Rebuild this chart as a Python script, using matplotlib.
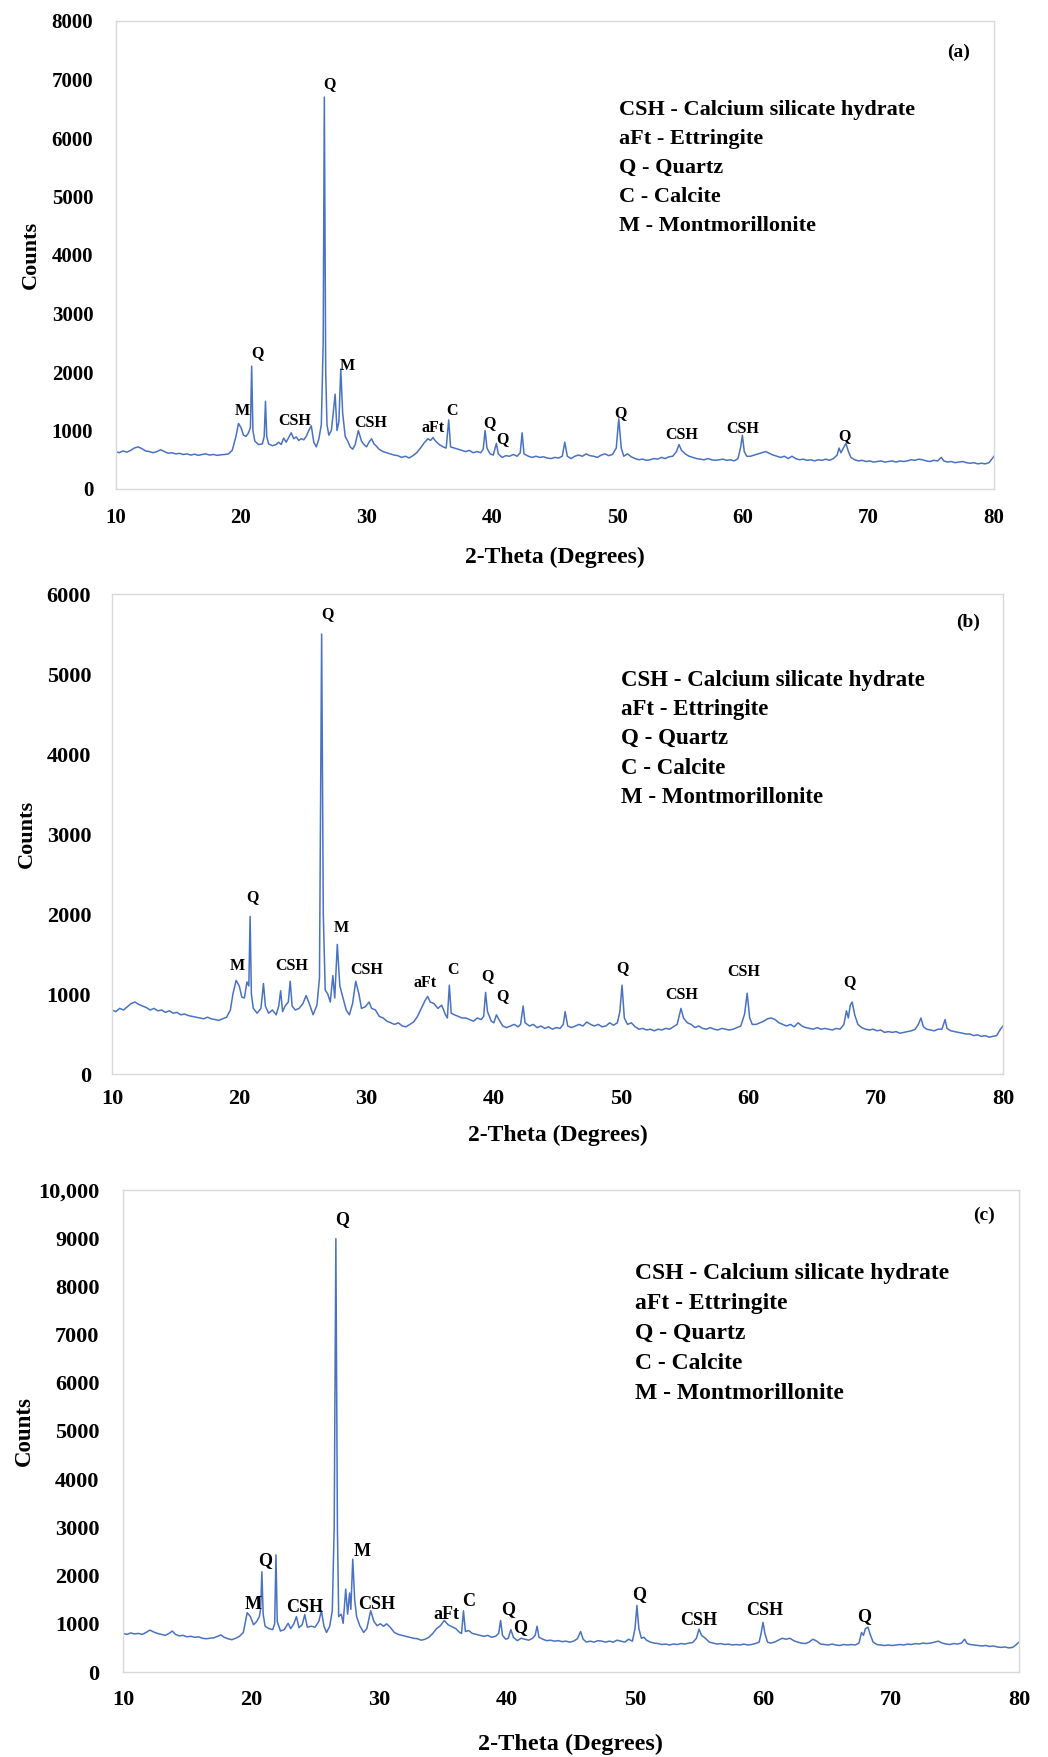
import matplotlib
matplotlib.use("Agg")
import matplotlib.pyplot as plt

plt.rcParams['font.family'] = ['Liberation Serif', 'DejaVu Serif']
plt.rcParams['font.weight'] = 'bold'

# ---- (a) pattern ----
theta_a = [10.0, 10.3, 10.6, 10.9, 11.2, 11.5, 11.8, 12.1, 12.4, 12.7,
           13.0, 13.3, 13.6, 13.9, 14.2, 14.5, 14.8, 15.1, 15.4, 15.7,
           16.0, 16.3, 16.6, 16.9, 17.2, 17.5, 17.8, 18.1, 18.4, 18.7,
           19.0, 19.3, 19.6, 19.8, 20.0, 20.2, 20.4, 20.6, 20.75, 20.85,
           20.95, 21.1, 21.4, 21.7, 21.85, 21.95, 22.05, 22.2, 22.5, 22.8,
           23.0, 23.2, 23.4, 23.6, 23.8, 24.0, 24.2, 24.4, 24.6, 24.8,
           25.0, 25.2, 25.4, 25.6, 25.8, 26.0, 26.2, 26.4, 26.55, 26.64,
           26.75, 26.85, 27.0, 27.2, 27.35, 27.5, 27.65, 27.8, 27.95, 28.1,
           28.3, 28.5, 28.7, 28.9, 29.1, 29.35, 29.6, 29.8, 30.0, 30.2,
           30.4, 30.6, 30.8, 31.0, 31.3, 31.6, 31.9, 32.2, 32.5, 32.8,
           33.1, 33.4, 33.7, 34.0, 34.3, 34.6, 34.9, 35.1, 35.3, 35.5,
           35.8, 36.1, 36.35, 36.55, 36.7, 37.0, 37.3, 37.6, 37.9, 38.2,
           38.5, 38.8, 39.1, 39.3, 39.45, 39.6, 39.85, 40.1, 40.35, 40.5,
           40.8, 41.1, 41.4, 41.7, 42.0, 42.25, 42.4, 42.55, 42.9, 43.2,
           43.5, 43.8, 44.1, 44.4, 44.7, 45.0, 45.3, 45.6, 45.8, 46.0,
           46.3, 46.6, 46.9, 47.2, 47.5, 47.8, 48.1, 48.4, 48.7, 49.0,
           49.3, 49.6, 49.9, 50.1, 50.3, 50.5, 50.8, 51.1, 51.4, 51.7,
           52.0, 52.3, 52.6, 52.9, 53.2, 53.5, 53.8, 54.1, 54.4, 54.7,
           54.9, 55.1, 55.4, 55.7, 56.0, 56.3, 56.6, 56.9, 57.2, 57.5,
           57.8, 58.1, 58.4, 58.7, 59.0, 59.3, 59.6, 59.8, 59.95, 60.1,
           60.3, 60.6, 60.9, 61.2, 61.5, 61.8, 62.1, 62.4, 62.7, 63.0,
           63.3, 63.6, 63.9, 64.2, 64.5, 64.8, 65.1, 65.4, 65.7, 66.0,
           66.3, 66.6, 66.9, 67.2, 67.5, 67.65, 67.8, 68.0, 68.2, 68.4,
           68.6, 68.9, 69.2, 69.5, 69.8, 70.1, 70.4, 70.7, 71.0, 71.3,
           71.6, 71.9, 72.2, 72.5, 72.8, 73.1, 73.4, 73.7, 74.0, 74.3,
           74.6, 74.9, 75.2, 75.5, 75.8, 76.0, 76.3, 76.6, 76.9, 77.2,
           77.5, 77.8, 78.1, 78.4, 78.7, 79.0, 79.3, 79.6, 79.85, 80.0]
counts_a = [640, 620, 650, 630, 660, 700, 720, 690, 650, 640,
            620, 640, 670, 640, 610, 620, 600, 610, 590, 600,
            580, 595, 575, 590, 600, 580, 590, 575, 585, 590,
            600, 660, 900, 1120, 1050, 920, 900, 960, 1050, 2100,
            1000, 820, 760, 770, 900, 1500, 900, 770, 740, 760,
            800, 760, 870, 800, 880, 960, 860, 890, 830, 860,
            840, 900, 1000, 1080, 800, 720, 850, 1100, 2500, 6700,
            2000, 1100, 920, 1000, 1300, 1620, 1000, 1150, 2050, 1300,
            900, 820, 720, 680, 760, 1000, 820, 760, 720, 800,
            860, 770, 730, 680, 640, 620, 600, 580, 570, 540,
            560, 530, 570, 620, 700, 790, 860, 830, 880, 820,
            760, 720, 700, 1180, 720, 700, 680, 660, 640, 660,
            620, 640, 620, 680, 1000, 700, 600, 580, 780, 600,
            540, 570, 560, 590, 560, 620, 960, 600, 560, 540,
            560, 540, 550, 530, 520, 540, 530, 560, 800, 560,
            520, 560, 580, 560, 600, 570, 560, 540, 580, 600,
            570, 590, 700, 1200, 700, 560, 600, 550, 520, 500,
            510, 490, 500, 520, 510, 540, 520, 550, 560, 640,
            760, 660, 600, 560, 540, 520, 510, 500, 520, 500,
            490, 500, 510, 490, 500, 480, 520, 700, 920, 640,
            560, 560, 580, 600, 620, 640, 610, 580, 560, 540,
            560, 520, 560, 520, 500, 510, 490, 500, 480, 500,
            490, 510, 490, 520, 580, 700, 620, 700, 780, 640,
            540, 500, 480, 490, 470, 480, 460, 470, 480, 460,
            470, 480, 460, 480, 470, 480, 500, 490, 510, 500,
            480, 470, 490, 480, 540, 480, 460, 470, 450, 460,
            470, 450, 440, 450, 430, 440, 430, 450, 520, 560]

# ---- (b) pattern ----
theta_b = [10.0, 10.3, 10.6, 10.9, 11.2, 11.5, 11.8, 12.1, 12.4, 12.7,
           13.0, 13.3, 13.6, 13.9, 14.2, 14.5, 14.8, 15.1, 15.4, 15.7,
           16.0, 16.3, 16.6, 16.9, 17.2, 17.5, 17.8, 18.1, 18.4, 18.7,
           19.0, 19.3, 19.5, 19.75, 20.0, 20.2, 20.4, 20.6, 20.75, 20.85,
           20.95, 21.1, 21.4, 21.7, 21.9, 22.05, 22.3, 22.6, 22.9, 23.1,
           23.25, 23.4, 23.6, 23.85, 24.0, 24.15, 24.4, 24.7, 25.0, 25.25,
           25.5, 25.8, 26.1, 26.3, 26.47, 26.6, 26.75, 26.95, 27.15, 27.35,
           27.5, 27.7, 27.9, 28.15, 28.4, 28.65, 28.9, 29.15, 29.4, 29.6,
           29.9, 30.2, 30.4, 30.7, 31.0, 31.3, 31.6, 31.9, 32.2, 32.5,
           32.8, 33.1, 33.4, 33.7, 34.0, 34.3, 34.6, 34.8, 35.0, 35.3,
           35.6, 35.9, 36.2, 36.35, 36.5, 36.65, 36.9, 37.2, 37.5, 37.8,
           38.1, 38.4, 38.7, 39.0, 39.2, 39.35, 39.5, 39.8, 40.0, 40.2,
           40.4, 40.7, 41.0, 41.3, 41.6, 41.9, 42.1, 42.3, 42.45, 42.8,
           43.1, 43.4, 43.7, 44.0, 44.3, 44.6, 44.9, 45.2, 45.45, 45.6,
           45.8, 46.1, 46.4, 46.7, 47.0, 47.3, 47.6, 47.9, 48.2, 48.5,
           48.8, 49.1, 49.4, 49.7, 49.9, 50.07, 50.25, 50.5, 50.8, 51.1,
           51.4, 51.7, 52.0, 52.3, 52.6, 52.9, 53.2, 53.5, 53.8, 54.1,
           54.4, 54.7, 54.9, 55.2, 55.5, 55.8, 56.1, 56.4, 56.7, 57.0,
           57.3, 57.6, 57.9, 58.2, 58.5, 58.8, 59.1, 59.4, 59.7, 59.9,
           60.1, 60.3, 60.6, 60.9, 61.2, 61.5, 61.8, 62.1, 62.4, 62.7,
           63.0, 63.3, 63.6, 63.9, 64.2, 64.5, 64.8, 65.1, 65.4, 65.7,
           66.0, 66.3, 66.6, 66.9, 67.2, 67.5, 67.7, 67.85, 68.0, 68.15,
           68.35, 68.6, 68.9, 69.2, 69.5, 69.8, 70.1, 70.4, 70.7, 71.0,
           71.3, 71.6, 71.9, 72.2, 72.5, 72.8, 73.1, 73.35, 73.55, 73.75,
           74.0, 74.3, 74.6, 74.9, 75.2, 75.45, 75.6, 75.9, 76.2, 76.5,
           76.8, 77.1, 77.4, 77.7, 78.0, 78.3, 78.6, 78.9, 79.2, 79.5,
           79.8, 80.0]
counts_b = [800, 780, 820, 800, 840, 880, 900, 870, 850, 830,
            800, 820, 790, 800, 770, 790, 760, 770, 740, 750,
            730, 720, 710, 700, 690, 710, 690, 680, 670, 690,
            710, 800, 1000, 1170, 1100, 960, 950, 1150, 1100, 1970,
            1000, 820, 760, 820, 1130, 850, 760, 800, 740, 850,
            1040, 780, 850, 900, 1160, 850, 800, 820, 880, 980,
            880, 740, 860, 1200, 5500, 2000, 1050, 1000, 900, 1230,
            950, 1620, 1100, 950, 800, 740, 880, 1160, 1000, 820,
            840, 900, 820, 800, 720, 700, 660, 640, 620, 640,
            600, 590, 620, 650, 720, 820, 920, 970, 900, 880,
            820, 860, 740, 700, 1110, 760, 740, 720, 700, 700,
            680, 660, 700, 680, 720, 1020, 780, 660, 640, 740,
            680, 600, 580, 600, 620, 590, 620, 850, 640, 600,
            620, 580, 600, 570, 590, 560, 580, 570, 620, 780,
            600, 580, 600, 620, 600, 650, 620, 600, 620, 590,
            600, 640, 610, 640, 780, 1110, 700, 620, 640, 590,
            560, 570, 550, 560, 540, 560, 550, 570, 560, 590,
            620, 820, 700, 640, 620, 580, 600, 570, 560, 580,
            560, 550, 570, 560, 550, 560, 580, 600, 750, 1010,
            700, 620, 620, 640, 660, 690, 700, 680, 640, 620,
            600, 620, 590, 640, 600, 580, 570, 560, 580, 560,
            570, 560, 550, 570, 560, 620, 790, 700, 860, 900,
            740, 620, 580, 560, 550, 560, 540, 550, 520, 530,
            520, 530, 510, 520, 530, 540, 560, 620, 700, 590,
            560, 550, 540, 560, 560, 680, 570, 540, 530, 520,
            510, 500, 500, 480, 490, 470, 480, 460, 470, 480,
            560, 600]

# ---- (c) pattern ----
theta_c = [10.0, 10.3, 10.6, 10.9, 11.2, 11.5, 11.8, 12.1, 12.4, 12.7,
           13.0, 13.3, 13.6, 13.85, 14.1, 14.4, 14.7, 15.0, 15.3, 15.6,
           15.9, 16.2, 16.5, 16.8, 17.1, 17.4, 17.65, 17.9, 18.2, 18.5,
           18.8, 19.1, 19.4, 19.7, 19.95, 20.2, 20.45, 20.65, 20.75, 20.85,
           20.95, 21.1, 21.4, 21.7, 21.85, 21.95, 22.05, 22.3, 22.6, 22.9,
           23.1, 23.35, 23.55, 23.75, 24.0, 24.2, 24.4, 24.7, 25.0, 25.3,
           25.5, 25.7, 25.9, 26.15, 26.35, 26.5, 26.63, 26.75, 26.85, 27.05,
           27.2, 27.4, 27.55, 27.7, 27.8, 27.95, 28.1, 28.25, 28.5, 28.8,
           29.05, 29.35, 29.6, 29.85, 30.1, 30.35, 30.6, 30.9, 31.2, 31.5,
           31.8, 32.1, 32.4, 32.7, 33.0, 33.3, 33.6, 33.9, 34.2, 34.5,
           34.8, 35.1, 35.4, 35.7, 36.0, 36.3, 36.45, 36.6, 36.75, 37.0,
           37.3, 37.6, 37.9, 38.2, 38.5, 38.8, 39.1, 39.35, 39.5, 39.65,
           39.9, 40.1, 40.3, 40.5, 40.8, 41.1, 41.4, 41.7, 42.0, 42.2,
           42.35, 42.5, 42.8, 43.1, 43.4, 43.7, 44.0, 44.3, 44.6, 44.9,
           45.2, 45.5, 45.75, 45.95, 46.2, 46.5, 46.8, 47.1, 47.4, 47.7,
           48.0, 48.3, 48.6, 48.9, 49.2, 49.5, 49.8, 50.0, 50.15, 50.3,
           50.5, 50.7, 50.9, 51.2, 51.5, 51.8, 52.1, 52.4, 52.7, 53.0,
           53.3, 53.6, 53.9, 54.2, 54.5, 54.8, 55.0, 55.2, 55.5, 55.8,
           56.1, 56.4, 56.7, 57.0, 57.3, 57.6, 57.9, 58.2, 58.5, 58.8,
           59.1, 59.4, 59.7, 59.85, 60.0, 60.15, 60.35, 60.6, 60.9, 61.2,
           61.5, 61.8, 62.1, 62.4, 62.7, 63.0, 63.3, 63.6, 63.9, 64.2,
           64.5, 64.8, 65.1, 65.4, 65.7, 66.0, 66.3, 66.6, 66.9, 67.2,
           67.5, 67.7, 67.85, 68.0, 68.2, 68.35, 68.6, 68.9, 69.2, 69.5,
           69.8, 70.1, 70.4, 70.7, 71.0, 71.3, 71.6, 71.9, 72.2, 72.5,
           72.8, 73.1, 73.4, 73.7, 74.0, 74.3, 74.6, 74.9, 75.2, 75.5,
           75.75, 75.95, 76.2, 76.5, 76.8, 77.1, 77.4, 77.7, 78.0, 78.3,
           78.6, 78.9, 79.2, 79.5, 79.75, 80.0]
counts_c = [800, 780, 810, 790, 800, 780, 820, 870, 830, 800,
            780, 760, 800, 850, 780, 750, 760, 730, 740, 720,
            730, 700, 690, 700, 710, 740, 770, 720, 690, 670,
            700, 740, 820, 1230, 1150, 980, 1050, 1150, 1300, 2080,
            1200, 950, 900, 880, 1000, 2430, 1050, 850, 880, 1010,
            900, 1000, 1150, 920, 980, 1190, 930, 950, 930, 1050,
            1270, 950, 820, 950, 1270, 3000, 8990, 3000, 1150, 1200,
            1010, 1720, 1200, 1640, 1300, 2340, 1500, 1150, 960, 820,
            900, 1270, 1050, 960, 1000, 950, 1000, 920, 820, 780,
            760, 740, 720, 700, 690, 660, 680, 720, 800, 900,
            960, 1070, 980, 940, 900, 820, 800, 1270, 840, 860,
            800, 780, 760, 740, 760, 720, 740, 800, 1070, 760,
            680, 700, 880, 720, 650, 700, 680, 660, 700, 760,
            950, 720, 680, 650, 660, 640, 650, 630, 640, 620,
            640, 690, 840, 680, 620, 640, 620, 650, 640, 620,
            640, 620, 660, 640, 620, 680, 640, 900, 1380, 900,
            700, 720, 660, 620, 600, 590, 570, 580, 560, 580,
            570, 590, 580, 600, 610, 700, 890, 760, 700, 620,
            600, 580, 590, 570, 580, 560, 570, 560, 580, 560,
            570, 590, 620, 800, 1030, 800, 620, 600, 620, 660,
            700, 680, 700, 650, 620, 600, 590, 620, 680, 640,
            580, 570, 560, 580, 560, 550, 570, 560, 570, 560,
            600, 820, 760, 900, 930, 800, 620, 570, 560, 550,
            560, 550, 560, 570, 560, 580, 570, 590, 580, 600,
            590, 600, 620, 640, 600, 580, 570, 590, 580, 600,
            680, 590, 570, 560, 550, 540, 550, 530, 540, 520,
            510, 520, 500, 510, 560, 620]

# phase labels over the peaks
peak_text = ['M', 'Q', 'CSH', 'Q', 'M', 'CSH', 'aFt', 'C', 'Q', 'Q',
             'Q', 'CSH', 'CSH', 'Q']
peak_x_a = [20.1, 21.3, 24.3, 27.05, 28.45, 30.35, 35.3, 36.85, 39.8, 40.85,
            50.2, 55.1, 59.95, 68.1]
peak_y_a = [1340, 2330, 1160, 6920, 2100, 1120, 1040, 1330, 1130, 850,
            1290, 920, 1020, 900]
peak_x_b = [19.85, 21.0, 24.1, 26.9, 28.05, 30.0, 34.6, 36.8, 39.5, 40.65,
            50.1, 54.75, 59.65, 67.95]
peak_y_b = [1350, 2215, 1350, 5750, 1830, 1300, 1135, 1300, 1230, 980,
            1330, 990, 1280, 1150]
peak_x_c = [20.15, 21.1, 24.2, 27.15, 28.7, 29.8, 35.27, 36.98, 40.06, 41.0,
            50.36, 54.97, 60.1, 67.9]
peak_y_c = [1405, 2310, 1330, 9380, 2490, 1405, 1190, 1460, 1300, 930,
            1615, 1070, 1266, 1150]

legend_lines = ['CSH - Calcium silicate hydrate', 'aFt - Ettringite',
                'Q - Quartz', 'C - Calcite', 'M - Montmorillonite']

W, H = 1048, 1757
fig = plt.figure(figsize=(W / 100, H / 100), dpi=100)
line_col = '#4a72c2'
frame_col = '#d9d9d9'


def draw(box, theta, counts, ymax, ytl, px, py, tag, tag_xy, leg_x, leg_y, leg_step,
         tick_fs, peak_fs, leg_fs, xpad, ypad, ylab_x, xlab_y, lab_fs):
    l, t, r, b = box
    ax = fig.add_axes([l / W, 1 - b / H, (r - l) / W, (b - t) / H])
    ax.plot(theta, counts, color=line_col, lw=1.1)
    ax.set_xlim(10, 80)
    ax.set_ylim(0, ymax)
    ax.set_xticks(range(10, 81, 10))
    ax.set_yticks(range(0, ymax + 1, 1000))
    ax.set_yticklabels(ytl)
    ax.tick_params(length=0, labelsize=tick_fs)
    ax.tick_params(axis='x', pad=xpad)
    ax.tick_params(axis='y', pad=ypad)
    for s in ax.spines.values():
        s.set_color(frame_col)
        s.set_linewidth(1.0)
    for lab in ax.get_xticklabels() + ax.get_yticklabels():
        lab.set_fontweight('bold')
    for txt, x, y in zip(peak_text, px, py):
        ax.text(x, y, txt, ha='center', va='center', fontsize=peak_fs, fontweight='bold')
    ax.text(tag_xy[0], tag_xy[1], tag, ha='center', va='center', fontsize=14, fontweight='bold')
    for i, s in enumerate(legend_lines):
        ax.text(leg_x, leg_y - i * leg_step, s, ha='left', va='center',
                fontsize=leg_fs, fontweight='bold')
    fig.text(ylab_x / W, 1 - (t + b) / 2 / H, 'Counts', rotation=90, ha='center',
             va='center', fontsize=lab_fs, fontweight='bold')
    fig.text((l + r) / 2 / W, 1 - xlab_y / H, '2-Theta (Degrees)', ha='center',
             va='center', fontsize=lab_fs + 1, fontweight='bold')
    return ax


draw((115.5, 21, 994, 489), theta_a, counts_a, 8000,
     [str(v) for v in range(0, 8001, 1000)],
     peak_x_a, peak_y_a, '(a)', (77.15, 7460), 50.13, 6485, 499,
     15, 11.5, 16, 14, 16, 31, 557, 16)

draw((112, 594, 1003, 1074), theta_b, counts_b, 6000,
     [str(v) for v in range(0, 6001, 1000)],
     peak_x_b, peak_y_b, '(b)', (77.27, 5640), 50.0, 4920, 365,
     16, 11.5, 16.5, 11, 15, 27, 1135, 16)

draw((123, 1190, 1019, 1672), theta_c, counts_c, 10000,
     [str(v) for v in range(0, 9001, 1000)] + ['10,000'],
     peak_x_c, peak_y_c, '(c)', (77.24, 9480), 49.97, 8270, 625,
     16, 13, 17, 13, 17, 24, 1744, 16.5)

fig.savefig('out.png', dpi=100, facecolor='white')
